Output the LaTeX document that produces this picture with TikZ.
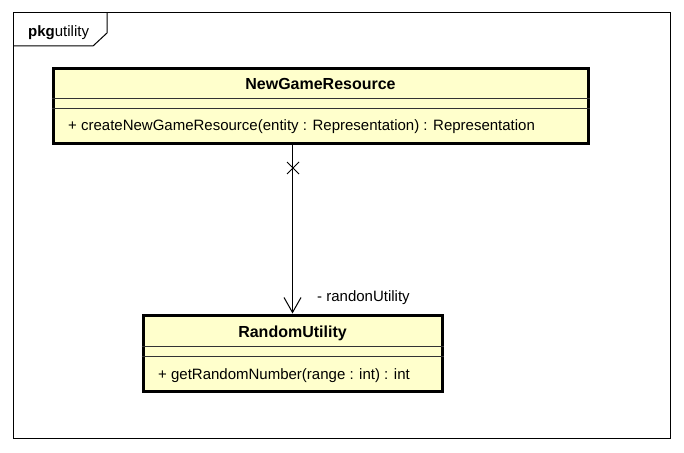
\documentclass[tikz,border=0pt]{standalone}
\usepackage{fontspec}
\setmainfont{Liberation Sans}
\usetikzlibrary{arrows.meta}
\definecolor{classfill}{RGB}{255,255,204}
\tikzstyle{uml_class} = [rectangle, draw=black, line width=3pt, fill=classfill]
\tikzstyle{class_name} = [inner sep=0pt, anchor=base, font=\fontsize{16}{17}\selectfont\bfseries]
\tikzstyle{class_op} = [inner sep=0pt, anchor=base west, font=\fontsize{15}{17}\selectfont]
\tikzstyle{sep_line} = [line width=1pt, black!80]

\begin{document}
\begin{tikzpicture}[x=1pt,y=-1pt]
\useasboundingbox (0,0) rectangle (684,452);
% package frame
\draw[line width=1pt] (13,13) rectangle (670,438);
\draw[line width=1pt] (13,46) -- (93,46) -- (107,33) -- (107,13);
\node (pkg) [inner sep=0pt, anchor=base west, font=\fontsize{15}{17}\selectfont] at (28,37) {\textbf{pkg}utility};
% classes
\node (ngr) [uml_class, minimum width=535pt, minimum height=75pt] at (320.5,105.5) {};
\node (ru) [uml_class, minimum width=299pt, minimum height=76pt] at (292.5,353) {};
\foreach \c/\a/\b in {ngr/98/108, ru/346/356}
{
    \draw[sep_line] (\c.west |- 0,\a) -- (\c.east |- 0,\a);
    \draw[sep_line] (\c.west |- 0,\b) -- (\c.east |- 0,\b);
}
\node (ngrname) [class_name] at (320.5,89) {NewGameResource};
\node (ngrop) [class_op] at (68,130) {+ createNewGameResource(entity : Representation) : Representation};
\node (runame) [class_name] at (292.5,337) {RandomUtility};
\node (ruop) [class_op] at (158,379) {+ getRandomNumber(range : int) : int};
% association
\coordinate (start) at (ngr.south -| ru.north);
\coordinate (cross) at (293,168);
\draw[line width=1pt, -{Straight Barb[length=15pt, width=17pt, line width=1pt]}] (start) -- (ru.north);
\draw[line width=1pt] ([shift={(-6,-6)}]cross) -- ([shift={(6,6)}]cross);
\draw[line width=1pt] ([shift={(6,-6)}]cross) -- ([shift={(-6,6)}]cross);
\node (role) [class_op] at (317,301) {- randonUtility};
\end{tikzpicture}
\end{document}
